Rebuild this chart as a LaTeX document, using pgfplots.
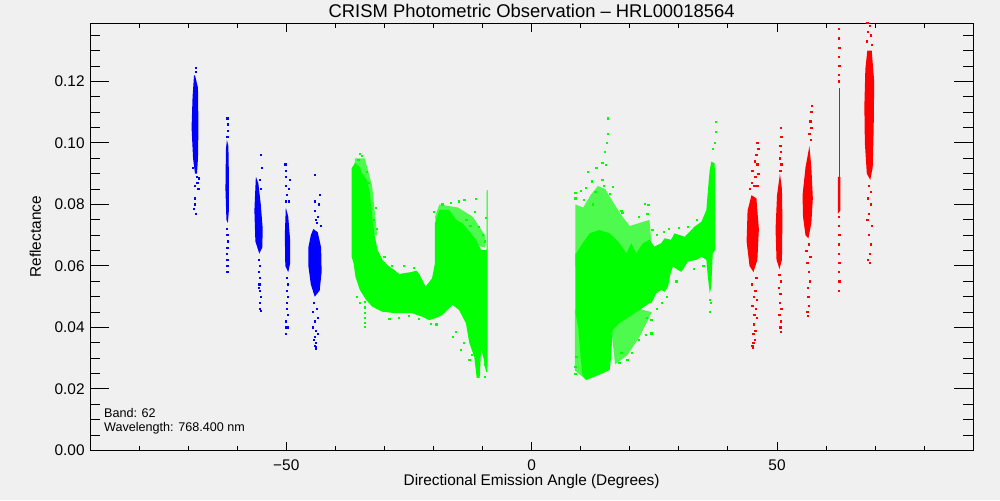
\documentclass[border=0pt]{standalone}
\usepackage{fontspec}
\setmainfont{Liberation Sans}
\usepackage{pgfplots}
\pgfplotsset{compat=1.18}
\definecolor{bg}{RGB}{240,240,240}
\definecolor{pg}{RGB}{0,255,0}
\definecolor{pb}{RGB}{0,0,255}
\definecolor{pr}{RGB}{255,0,0}
\colorlet{pgs}{pg!68!bg}
\begin{document}
\begin{tikzpicture}
\path[use as bounding box, fill=bg] (0,0) rectangle (500pt,250pt);
\begin{axis}[
  at={(45pt,24.75pt)}, anchor=south west, scale only axis,
  width=441.65pt, height=213.75pt,
  xmin=-90, xmax=90, ymin=0, ymax=0.139,
  clip mode=individual,
  axis line style={line width=0.5pt},
  xtick={-50,0,50}, xticklabels={−50,0,50},
  minor xtick={-80,-70,-60,-40,-30,-20,-10,10,20,30,40,60,70,80},
  ytick={0,0.02,0.04,0.06,0.08,0.10,0.12},
  minor ytick={0.005,0.01,0.015,0.025,0.03,0.035,0.045,0.05,0.055,0.065,0.07,0.075,0.085,0.09,0.095,0.105,0.11,0.115,0.125,0.13,0.135},
  tick align=inside,
  xtick style={line width=0.5pt, black, /pgfplots/major tick length=4.5pt, /pgfplots/minor tick length=2.3pt},
  ytick style={line width=0.5pt, black, /pgfplots/major tick length=9.5pt, /pgfplots/minor tick length=5pt},
  scaled y ticks=false,
  yticklabel style={/pgf/number format/fixed, /pgf/number format/fixed zerofill, /pgf/number format/precision=2, anchor=east, inner sep=0pt, xshift=-2.5pt, font=\fontsize{7.7}{8}\selectfont},
  xticklabel style={anchor=base, inner sep=0pt, yshift=-9.75pt, font=\fontsize{7.7}{8}\selectfont},
  /pgf/number format/assume math mode=true,
  xlabel={Directional Emission Angle (Degrees)},
  xlabel style={at={(axis description cs:0.5,-0.0807)}, anchor=base, inner sep=0pt, font=\fontsize{7.7}{8}\selectfont},
  ylabel={Reflectance},
  ylabel style={at={(axis description cs:-0.0555,0.5)}, anchor=base, inner sep=0pt, font=\fontsize{7.7}{8}\selectfont},
]
% ---------- green sparse (speckled) regions ----------
\addplot[fill=pgs, draw=none] coordinates {
(8.9,0.060) (8.9,0.080) (10.5,0.079) (12.0,0.083) (13.5,0.086) (15.0,0.085) (16.5,0.081)
(18.5,0.076) (20.0,0.073) (22.0,0.074) (24.0,0.075) (24.5,0.066) (16.0,0.060) };
\addplot[fill=pgs, draw=none] coordinates {
(8.8,0.046) (10.2,0.040) (10.6,0.030) (10.4,0.024) (8.8,0.026) };
\addplot[fill=pgs, draw=none] coordinates {
(16.2,0.040) (17.0,0.028) (19.5,0.031) (22.0,0.037) (24.5,0.045) (22.0,0.046) };
\addplot[fill=pgs, draw=none] coordinates {
(-19.7,0.0760) (-18.8,0.0800) (-15.0,0.0790) (-12.0,0.0760) (-9.5,0.0700) (-9.5,0.0660) (-19.0,0.0700) };
\addplot[fill=pgs, draw=none] coordinates {
(-36.0,0.0950) (-34.0,0.0950) (-32.5,0.0860) (-31.5,0.0700) (-33.0,0.0700) (-36.0,0.0880) };
% ---------- green dense regions ----------
\addplot[fill=pg, draw=none] coordinates {
(-36.7,0.0917) (-36.0,0.0935) (-35.2,0.0925) (-34.5,0.0900) (-33.6,0.0880) (-33.0,0.0840)
(-32.9,0.0825) (-32.5,0.0760) (-32.1,0.0707) (-31.4,0.0652) (-30.4,0.0620) (-29.4,0.0603)
(-28.0,0.0587) (-27.0,0.0574) (-24.6,0.0580) (-23.5,0.0585) (-23.0,0.0576) (-21.6,0.0533)
(-20.3,0.0560) (-19.7,0.0609) (-19.7,0.0740) (-18.8,0.0782) (-16.8,0.0782) (-15.4,0.0750)
(-14.1,0.0739) (-12.7,0.0712) (-11.3,0.0685) (-10.3,0.0652) (-9.2,0.0652) (-9.15,0.0847)
(-8.95,0.0847) (-9.0,0.0256) (-9.3,0.0256) (-9.8,0.0300) (-10.3,0.0330) (-10.6,0.0236)
(-11.2,0.0236) (-11.7,0.0305) (-12.7,0.0350) (-13.4,0.0414) (-14.8,0.0457) (-16.1,0.0473)
(-16.8,0.0463) (-18.2,0.0441) (-19.5,0.0431) (-20.9,0.0424) (-22.3,0.0435) (-24.5,0.0447)
(-28.0,0.0447) (-30.4,0.0451) (-32.5,0.0468) (-33.7,0.0489) (-35.0,0.0522) (-35.9,0.0565)
(-36.3,0.0610) (-36.7,0.0630)
};
\addplot[fill=pg, draw=none] coordinates {
(8.9,0.0641) (9.1,0.0641) (10.4,0.0674) (11.8,0.0706) (13.8,0.0717) (15.9,0.0706)
(17.9,0.0674) (19.3,0.0641) (20.3,0.0674) (21.3,0.0641) (22.7,0.0674) (24.0,0.0685)
(25.0,0.0663) (26.4,0.0674) (27.1,0.0690) (28.4,0.0685) (29.1,0.0706) (31.2,0.0695)
(33.2,0.0728) (34.6,0.0744) (35.6,0.0782) (36.1,0.0880) (36.3,0.0912) (36.6,0.0939)
(37.3,0.0934) (37.4,0.0771) (37.4,0.0652) (36.9,0.0641) (36.6,0.0533) (36.3,0.0511)
(35.9,0.0565) (35.6,0.0620) (34.6,0.0630) (33.6,0.0620) (31.8,0.0614) (31.2,0.0598)
(30.5,0.0581) (29.8,0.0587) (28.8,0.0598) (28.3,0.0576) (27.8,0.0533) (27.1,0.0516)
(26.4,0.0522) (25.4,0.0511) (24.4,0.0479) (24.0,0.0479) (21.96,0.0457) (19.9,0.0435)
(17.9,0.0414) (16.5,0.0392) (16.2,0.0305) (15.9,0.0262) (14.5,0.0251) (11.1,0.0229)
(10.4,0.0240) (10.0,0.0300) (9.5,0.0400) (8.9,0.0450)
};
% ---------- green scattered points ----------
\addplot[only marks, mark=square*, mark size=0.3pt, pg, mark options={draw=none}] coordinates {
(-35.0,0.0964) (-34.6,0.0958) (-35.3,0.0945) (-33.5,0.0905) (-33.1,0.0870) (-34.0,0.0484)
(-34.0,0.0465) (-34.0,0.0448) (-34.0,0.0430) (-34.0,0.0415) (-34.0,0.0403) (-35.0,0.0480)
(-35.6,0.0500) (-29.0,0.0428) (-27.0,0.0432) (-25.0,0.0438) (-23.0,0.0428) (-19.4,0.0410)
(-20.5,0.0412) (-16.0,0.0370) (-15.5,0.0385) (-14.4,0.0327) (-13.8,0.0350) (-12.7,0.0294)
(-12.2,0.0310) (-14.8,0.0810) (-13.7,0.0815) (-11.3,0.0818) (-11.5,0.0776) (-9.3,0.0756)
(-10.7,0.0727) (-13.3,0.0750) (-12.5,0.0730) (-10.0,0.0700) (-9.6,0.0680) (-16.5,0.0805)
(-18.2,0.0800) (-20.0,0.0775) (-31.5,0.0720) (-32.2,0.0750) (-31.8,0.0790) (-26.0,0.0600)
(-24.0,0.0595) (-28.5,0.0600) (-30.0,0.0630) (-9.6,0.0240) (-9.5,0.0280)
(15.6,0.108) (15.6,0.103) (15.4,0.100) (15.0,0.097) (14.4,0.0935) (15.2,0.0928)
(11.4,0.0906) (11.0,0.0853) (13.2,0.0919) (14.4,0.088) (8.9,0.0837) (8.9,0.082)
(10.7,0.0815) (12.4,0.080) (15.9,0.0835) (16.5,0.0857) (18.3,0.078) (18.5,0.0772)
(21.9,0.0759) (23.0,0.0801) (23.8,0.0798) (23.6,0.077) (24.6,0.0717) (25.5,0.0700)
(27.0,0.0710) (28.0,0.0720) (30.0,0.0725) (31.8,0.0727) (33.6,0.0750) (36.3,0.0489)
(36.5,0.0480) (36.3,0.0450) (37.5,0.1068) (37.5,0.1036) (37.4,0.1000) (37.0,0.0980)
(24.4,0.0424) (24.4,0.0381) (23.2,0.0376) (21.9,0.0359) (20.5,0.0317) (19.5,0.0294)
(17.9,0.0285) (18.3,0.0317) (9.1,0.0304) (8.9,0.0272) (8.9,0.0250)
(13.0,0.084) (14.8,0.086) (12.2,0.0875) (10.0,0.0845) (23.5,0.043) (25.5,0.046)
(26.5,0.048) (27.5,0.050) (29.5,0.055) (33.0,0.0590) (35.0,0.0600)
};
% ---------- blue strips ----------
\addplot[fill=pb, draw=none] coordinates {
(-68.6,0.122) (-68.0,0.118) (-67.9,0.105) (-68.0,0.095) (-68.2,0.090) (-68.6,0.090)
(-69.0,0.095) (-69.3,0.105) (-69.1,0.115) (-68.8,0.122) };
\addplot[fill=pb, draw=none] coordinates {
(-62.1,0.101) (-61.8,0.099) (-61.7,0.090) (-61.7,0.078) (-61.9,0.074) (-62.2,0.075)
(-62.4,0.085) (-62.3,0.098) };
\addplot[fill=pb, draw=none] coordinates {
(-56.2,0.089) (-55.7,0.087) (-55.2,0.080) (-54.8,0.072) (-54.9,0.066) (-55.5,0.064)
(-56.3,0.068) (-56.5,0.078) };
\addplot[fill=pb, draw=none] coordinates {
(-50.1,0.079) (-49.6,0.076) (-49.2,0.068) (-49.2,0.061) (-49.6,0.058) (-50.2,0.060)
(-50.3,0.070) };
\addplot[fill=pb, draw=none] coordinates {
(-44.5,0.072) (-43.6,0.071) (-42.9,0.066) (-42.8,0.058) (-43.2,0.052) (-44.2,0.050)
(-45.0,0.054) (-45.5,0.060) (-45.5,0.066) (-45.0,0.070) };
\addplot[only marks, mark=square*, mark size=0.3pt, pb, mark options={draw=none}] coordinates {
(-68.4,0.1245) (-68.5,0.123) (-68.2,0.089) (-68.1,0.087) (-68.6,0.086) (-67.9,0.085)
(-68.7,0.082) (-68.6,0.080) (-68.5,0.077) (-68.8,0.0785) (-67.8,0.0885) (-69.0,0.092)
(-62.0,0.108) (-61.9,0.106) (-61.95,0.104) (-62.0,0.102) (-62.1,0.072) (-62.0,0.070)
(-61.9,0.068) (-62.0,0.066) (-62.05,0.064) (-62.0,0.062) (-62.0,0.060) (-62.0,0.058)
(-55.1,0.096) (-55.0,0.092) (-55.3,0.088) (-55.2,0.085) (-55.6,0.062) (-55.4,0.060)
(-55.6,0.058) (-55.3,0.056) (-55.5,0.054) (-55.4,0.052) (-55.2,0.050) (-55.4,0.048)
(-55.3,0.046) (-55.1,0.0455) (-55.6,0.053)
(-50.2,0.093) (-50.1,0.091) (-50.0,0.089) (-49.3,0.088) (-49.4,0.085) (-50.0,0.086)
(-49.8,0.083) (-49.5,0.081) (-50.0,0.081) (-49.8,0.056) (-49.7,0.054) (-49.9,0.052)
(-49.6,0.050) (-49.8,0.048) (-49.9,0.046) (-49.7,0.044) (-50.0,0.042) (-50.0,0.040)
(-50.0,0.038) (-49.6,0.040)
(-44.1,0.0895) (-43.2,0.083) (-43.4,0.080) (-44.1,0.081) (-44.2,0.078) (-43.6,0.076)
(-44.0,0.075) (-43.0,0.073) (-43.8,0.074) (-44.4,0.048) (-43.8,0.046) (-44.6,0.045)
(-43.6,0.043) (-44.2,0.042) (-44.5,0.040) (-43.9,0.039) (-43.6,0.038) (-44.2,0.037)
(-44.0,0.035) (-44.1,0.034) (-44.0,0.033) (-43.9,0.0335) (-44.4,0.036)
};
% ---------- red strips ----------
\addplot[fill=pr, draw=none] coordinates {
(44.8,0.083) (45.8,0.082) (46.3,0.072) (46.0,0.062) (45.2,0.058) (44.4,0.060)
(43.8,0.068) (44.0,0.078) };
\addplot[fill=pr, draw=none] coordinates {
(50.6,0.090) (51.0,0.085) (51.1,0.075) (51.0,0.062) (50.5,0.059) (49.9,0.062)
(49.7,0.072) (50.0,0.083) };
\addplot[fill=pr, draw=none] coordinates {
(56.6,0.099) (57.0,0.092) (57.3,0.082) (57.0,0.074) (56.4,0.069) (55.8,0.070)
(55.3,0.076) (55.2,0.083) (55.8,0.092) };
\addplot[fill=pr, draw=none] coordinates {
(62.4,0.089) (62.9,0.089) (62.9,0.078) (62.4,0.077) };
\addplot[fill=pr, draw=none] coordinates {
(62.55,0.118) (62.75,0.118) (62.75,0.089) (62.55,0.089) };
\addplot[fill=pr, draw=none] coordinates {
(68.4,0.130) (69.3,0.130) (69.8,0.120) (69.7,0.105) (69.5,0.092) (69.0,0.088)
(68.3,0.090) (67.9,0.100) (67.8,0.112) (68.0,0.124) };
\addplot[only marks, mark=square*, mark size=0.3pt, pr, mark options={draw=none}] coordinates {
(46.0,0.100) (46.2,0.098) (45.8,0.096) (45.5,0.094) (46.0,0.093) (45.0,0.091) (45.6,0.089)
(46.2,0.090) (44.8,0.087) (45.4,0.086) (46.0,0.086) (44.5,0.085)
(45.8,0.056) (44.9,0.054) (45.6,0.052) (45.3,0.050) (45.9,0.049) (45.0,0.047) (45.7,0.046)
(45.4,0.044) (45.9,0.043) (45.3,0.041) (45.6,0.039) (45.2,0.038) (45.5,0.036) (45.2,0.035)
(45.0,0.034) (45.1,0.0335)
(50.8,0.105) (50.9,0.102) (50.7,0.099) (50.8,0.097) (50.6,0.095) (50.9,0.093) (50.7,0.091)
(50.5,0.057) (50.8,0.055) (50.4,0.053) (50.7,0.051) (50.6,0.048) (50.9,0.046) (50.5,0.044)
(50.8,0.042) (50.7,0.040) (50.8,0.0385)
(57.1,0.112) (57.0,0.110) (56.8,0.107) (57.0,0.105) (56.6,0.103) (56.9,0.101)
(56.5,0.067) (56.0,0.065) (56.8,0.063) (56.2,0.061) (56.5,0.058) (56.7,0.055) (56.3,0.053)
(56.4,0.050) (56.5,0.047) (56.2,0.045) (56.3,0.0437)
(62.6,0.137) (62.6,0.134) (62.7,0.131) (62.6,0.128) (62.7,0.125) (62.6,0.122) (62.65,0.120)
(62.6,0.076) (62.6,0.073) (62.7,0.070) (62.6,0.067) (62.6,0.064) (62.7,0.061) (62.6,0.058)
(62.7,0.055) (62.6,0.052)
(68.4,0.139) (69.0,0.138) (68.6,0.136) (69.2,0.135) (68.3,0.133) (69.4,0.132)
(68.8,0.086) (69.2,0.084) (68.5,0.082) (69.1,0.080) (68.8,0.077) (68.4,0.075) (69.3,0.073)
(68.7,0.070) (69.1,0.067) (68.9,0.064) (68.5,0.062) (69.0,0.061)
};
\node[anchor=base west, inner sep=0pt, font=\fontsize{6.3}{7}\selectfont] at (axis cs:-87.2,0.0108) {Band: 62};
\node[anchor=base west, inner sep=0pt, font=\fontsize{6.3}{7}\selectfont] at (axis cs:-87.2,0.0061) {Wavelength: 768.400 nm};
\node[anchor=base, inner sep=0pt, font=\fontsize{9.2}{10}\selectfont] at (axis description cs:0.5,1.0129) {CRISM Photometric Observation – HRL00018564};
\end{axis}
\end{tikzpicture}
\end{document}
